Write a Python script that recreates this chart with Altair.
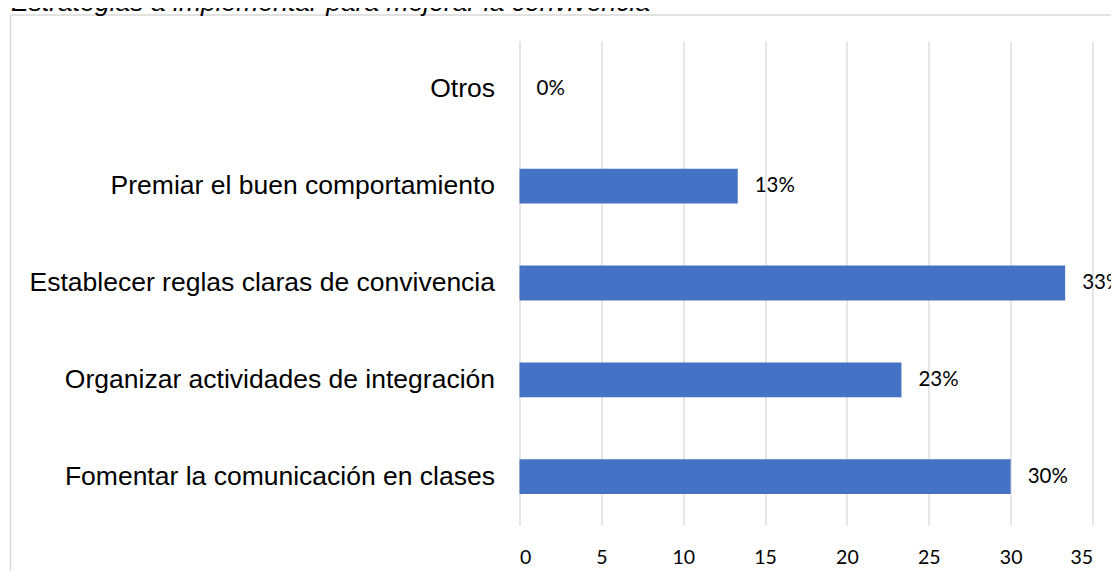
import altair as alt
import pandas as pd

categories = [
    "Otros",
    "Premiar el buen comportamiento",
    "Establecer reglas claras de convivencia",
    "Organizar actividades de integración",
    "Fomentar la comunicación en clases",
]
values = [0, 13.33, 33.33, 23.33, 30.0]
labels = ["0%", "13%", "33%", "23%", "30%"]
x_ticks = [0, 5, 10, 15, 20, 25, 30, 35]
title_text = "Estrategias a implementar para mejorar la convivencia"

df = pd.DataFrame({"cat": categories, "val": values, "lab": labels})
one = pd.DataFrame({"t": [title_text]})

W, H = 573, 484
PL, PT = 511.5, 33
TOTAL_W, TOTAL_H = 1103, 563

y_enc = alt.Y(
    "cat:N",
    sort=categories,
    title=None,
    scale=alt.Scale(paddingInner=0.64, paddingOuter=0.32),
    axis=alt.Axis(
        labelFont="Liberation Sans",
        labelFontSize=26.5,
        labelColor="#000000",
        labelPadding=25,
        labelLimit=600,
        ticks=False,
        domain=False,
        grid=False,
    ),
)
x_enc = alt.X(
    "val:Q",
    title=None,
    scale=alt.Scale(domain=[0, 35], nice=False),
    axis=alt.Axis(
        values=x_ticks,
        labelFont="Lato",
        labelFontSize=19.5,
        labelColor="#000000",
        labelBaseline="middle",
        labelPadding=32.5,
        ticks=False,
        domain=False,
        grid=True,
        gridColor="#d9d9d9",
        gridWidth=1.3,
    ),
)

bars = alt.Chart(df).mark_bar(color="#4472C4").encode(x=x_enc, y=y_enc)

texts = alt.Chart(df).mark_text(
    align="left", baseline="middle", dx=17, font="Lato", fontSize=20.5, color="#000000"
).encode(x=alt.X("val:Q"), y=alt.Y("cat:N", sort=categories), text="lab:N")

border_left = alt.Chart(one).mark_rule(color="#d9d9d9", strokeWidth=1.5).encode(
    x=alt.value(10.5 - 519.5), y=alt.value(15 - 41), y2=alt.value(700)
)
border_top = alt.Chart(one).mark_rule(color="#d9d9d9", strokeWidth=1.5).encode(
    x=alt.value(10.5 - 519.5), x2=alt.value(800), y=alt.value(15 - 41)
)
title = alt.Chart(one).mark_text(
    align="left", baseline="alphabetic", font="Liberation Sans", fontSize=26.5,
    fontStyle="italic", color="#000000"
).encode(x=alt.value(11 - 519.5), y=alt.value(10.5 - 41), text="t:N")

chart = alt.layer(border_left, border_top, bars, texts, title).properties(
    width=W,
    height=H,
    autosize=alt.AutoSizeParams(type="none"),
    padding={"left": PL, "top": PT, "right": TOTAL_W - PL - W, "bottom": TOTAL_H - PT - H},
).configure_view(stroke=None)

chart.save("out.html", embed_options={"renderer": "svg", "actions": False})
